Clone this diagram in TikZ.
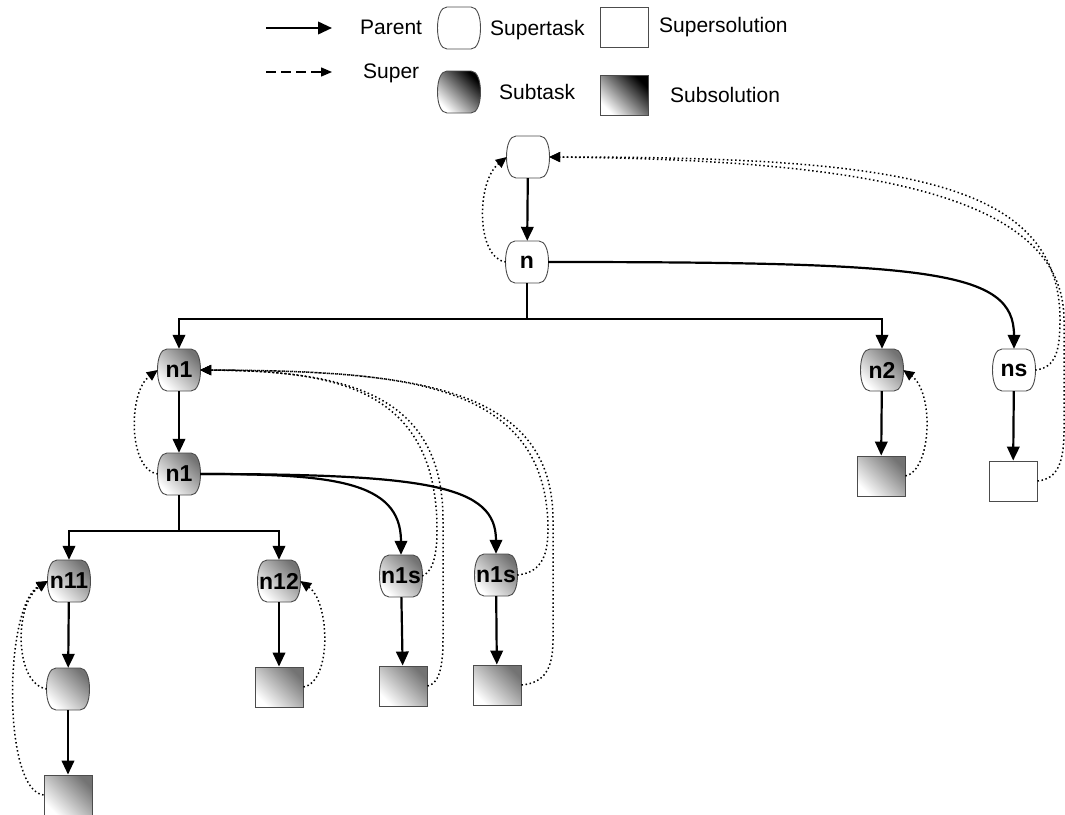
\documentclass[tikz,border=0pt]{standalone}
\usepackage{fontspec}
\setmainfont{Liberation Sans}
\usetikzlibrary{arrows.meta,backgrounds}

\tikzset{
  lbl/.style={font=\fontsize{21}{24}\selectfont, inner sep=0pt},
  taskbox/.style={minimum width=42pt, minimum height=42pt, inner sep=0pt,
    font=\fontsize{23}{26}\selectfont\bfseries},
  outline/.style={draw=black!70, line width=0.9pt},
  superfill/.style={outline, fill=white},
  subfill/.style={outline, top color=black!55, bottom color=white, shading angle=-45},
  keysubfill/.style={outline, top color=black, bottom color=white, shading angle=-45},
  solbox/.style={outline, minimum width=48pt, minimum height=40pt, inner sep=0pt},
  supersol/.style={solbox, fill=white},
  subsol/.style={solbox, top color=black!55, bottom color=white, shading angle=-45},
  keysubsol/.style={solbox, top color=black, bottom color=white, shading angle=-45},
  link/.style={line width=2.2pt},
  parent/.style={link, -{Triangle[length=14pt,width=12.5pt]}},
  super/.style={line width=1.5pt, dash pattern=on 1.5pt off 2.6pt,
    -{Triangle[length=11pt,width=10pt]}},
  keysuper/.style={line width=1.3pt, dash pattern=on 10pt off 5pt,
    -{Triangle[length=11pt,width=9pt]}},
}

% rounded task outline with bulging sides, centred on a node
\newcommand\taskshape[2]{%
  \path[#2, shift={(#1)}] (-12,-21) -- (12,-21)
    .. controls (18,-21) and (21.5,-12) .. (21.5,0)
    .. controls (21.5,12) and (18,21) .. (12,21) -- (-12,21)
    .. controls (-18,21) and (-21.5,12) .. (-21.5,0)
    .. controls (-21.5,-12) and (-18,-21) .. (-12,-21) -- cycle;}

\begin{document}
\begin{tikzpicture}[x=1pt, y=-1pt]
\useasboundingbox (0,0) rectangle (1065,814);

% ---------- key ----------
\coordinate (kpa) at (266,28);
\coordinate (kpb) at (332,28);
\coordinate (ksa) at (266,72);
\coordinate (ksb) at (332,72);
\draw[parent] (kpa) -- (kpb);
\draw[keysuper] (ksa) -- (ksb);
\node[lbl, anchor=base west] (kparent) at (360,34) {Parent};
\node[lbl, anchor=base west] (ksuper) at (363,78) {Super};
\node[taskbox] (ksupt) at (459,28) {};
\node[taskbox] (ksubt) at (459,92) {};
\node[lbl, anchor=base west] (ksupttxt) at (490,35) {Supertask};
\node[lbl, anchor=base west] (ksubttxt) at (499,99) {Subtask};
\node[supersol] (ksups) at (624,27) {};
\node[keysubsol] (ksubs) at (624,95) {};
\node[lbl, anchor=base west] (ksupstxt) at (659,32) {Supersolution};
\node[lbl, anchor=base west] (ksubstxt) at (670,102) {Subsolution};

% ---------- tasks ----------
\node[taskbox] (t0)   at (528,157) {};
\node[taskbox] (n)    at (527,262) {n};
\node[taskbox] (n1a)  at (179,370) {n1};
\node[taskbox] (n1b)  at (179,474) {n1};
\node[taskbox] (n2)   at (882,370) {n2};
\node[taskbox] (ns)   at (1014,370) {ns};
\node[taskbox] (n11)  at (69,581) {n11};
\node[taskbox] (n12)  at (279,581) {n12};
\node[taskbox] (n1sa) at (401,576) {n1s};
\node[taskbox] (n1sb) at (496,575) {n1s};
\node[taskbox] (n11t) at (68,689) {};

% ---------- solutions ----------
\node[subsol]   (n2sol)   at (881,476) {};
\node[supersol] (nssol)   at (1013,481) {};
\node[subsol]   (n12sol)  at (279,687) {};
\node[subsol]   (n1sasol) at (403,686) {};
\node[subsol]   (n1sbsol) at (497,685) {};
\node[subsol]   (n11sol)  at (68,795) {};

% task outlines behind the labels
\begin{scope}[on background layer]
  \taskshape{ksupt}{superfill}
  \taskshape{ksubt}{keysubfill}
  \foreach \t in {t0,n,ns} {\taskshape{\t}{superfill}}
  \foreach \t in {n1a,n1b,n2,n11,n12,n1sa,n1sb,n11t} {\taskshape{\t}{subfill}}
\end{scope}

% ---------- parent links ----------
\coordinate (nfork) at (527,319);
\coordinate (n1fork) at (179,531);
\draw[parent] (t0) -- (n);
\draw[link] (n) -- (nfork);
\draw[parent] (nfork) -| (n1a);
\draw[parent] (nfork) -| (n2);
\draw[parent] (n.east) .. controls (930,262) and (1014,270) .. (ns.north);
\draw[parent] (n1a) -- (n1b);
\draw[link] (n1b) -- (n1fork);
\draw[parent] (n1fork) -| (n11);
\draw[parent] (n1fork) -| (n12);
\draw[parent] (n1b.east) .. controls (330,474) and (401,480) .. (n1sa.north);
\draw[parent] (n1b.east) .. controls (430,474) and (496,486) .. (n1sb.north);
\draw[parent] (n2) -- (n2sol);
\draw[parent] (ns) -- (nssol);
\draw[parent] (n11) -- (n11t);
\draw[parent] (n11t) -- (n11sol);
\draw[parent] (n12) -- (n12sol);
\draw[parent] (n1sa) -- (n1sasol);
\draw[parent] (n1sb) -- (n1sbsol);

% ---------- super links ----------
\draw[super] (n.west) .. controls (476,258) and (476,182) .. (t0.west);
\draw[super] (ns.east) .. controls (1056,368) and (1060,350) .. (1060,320)
  .. controls (1060,180) and (900,157) .. (t0.east);
\draw[super] (nssol.east) .. controls (1058,479) and (1064,462) .. (1064,430)
  -- (1064,320) .. controls (1064,195) and (870,160) .. (t0.east);
\draw[super] (n2sol.east) .. controls (932,470) and (934,392) .. (n2.east);
\draw[super] (n1b.west) .. controls (128,470) and (128,392) .. (n1a.west);
\draw[super] (n1sa.east) .. controls (432,572) and (437,558) .. (437,530)
  .. controls (437,385) and (330,371) .. (n1a.east);
\draw[super] (n1sasol.east) .. controls (438,684) and (443,670) .. (443,640)
  -- (443,520) .. controls (443,390) and (340,371) .. (n1a.east);
\draw[super] (n1sb.east) .. controls (538,573) and (548,560) .. (548,530)
  .. controls (548,380) and (400,371) .. (n1a.east);
\draw[super] (n1sbsol.east) .. controls (545,683) and (553,668) .. (553,640)
  -- (553,520) .. controls (553,385) and (410,371) .. (n1a.east);
\draw[super] (n12sol.east) .. controls (332,682) and (330,602) .. (n12.east);
\draw[super] (n11t.west) .. controls (14,684) and (14,604) .. (n11.west);
\draw[super] (n11sol.west) .. controls (2,790) and (4,606) .. (n11.west);
\end{tikzpicture}
\end{document}
